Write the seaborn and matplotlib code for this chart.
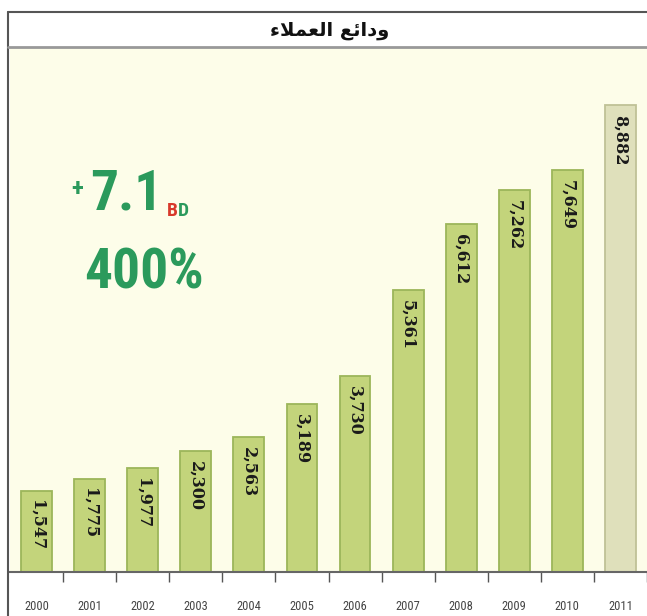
import numpy as np
import pandas as pd
import seaborn as sns
import matplotlib.pyplot as plt
from matplotlib import font_manager
from matplotlib.lines import Line2D

# data
years = ['2000', '2001', '2002', '2003', '2004', '2005',
         '2006', '2007', '2008', '2009', '2010', '2011']
deposits = [1547, 1775, 1977, 2300, 2563, 3189,
            3730, 5361, 6612, 7262, 7649, 8882]
value_labels = ['1,547', '1,775', '1,977', '2,300', '2,563', '3,189',
                '3,730', '5,361', '6,612', '7,262', '7,649', '8,882']
# "ودائع العملاء" written in shaped presentation forms, visual order
title_text = '\uFE80\uFEFC\uFEE4\uFECC\uFEDF\uFE8D \uFECA\uFE8B\uFE8D\uFEA9\uFEED'
growth_value = '7.1'
growth_pct = '400%'

bar_colors = ['#c3d47b'] * 11 + ['#dfe0bb']
edge_colors = ['#9cb65a'] * 11 + ['#bfc296']
green = '#2b9a5c'
red = '#d8392b'

sns.set_theme(style='white')

names = {f.name for f in font_manager.fontManager.ttflist}
narrow = next((n for n in ['Roboto Condensed', 'Liberation Sans Narrow', 'Open Sans Condensed']
               if n in names), 'Liberation Serif')

W, H = 647, 616
def fx(px):
    return px / W
def fy(py):
    return 1 - py / H

fig = plt.figure(figsize=(6.47, 6.16), dpi=100, facecolor='white')

# outer frame and title band
fig.add_artist(Line2D([fx(8), fx(8)], [fy(12), fy(616)], color='#555555', lw=1.5))
fig.add_artist(Line2D([fx(8), 1], [fy(12), fy(12)], color='#555555', lw=1.5))
fig.add_artist(Line2D([fx(8), 1], [fy(47), fy(47)], color='#999999', lw=2))
fig.text(fx(330), fy(30), title_text, ha='center', va='center',
         fontsize=14, fontweight='bold', family='DejaVu Sans', color='#111111')

ax = fig.add_axes([fx(10), fy(572), 1 - fx(10), fy(48) - fy(572)])
ax.set_facecolor('#fdfde9')

df = pd.DataFrame({'year': years, 'deposits': deposits})
sns.barplot(data=df, x='year', y='deposits', hue='year', palette=bar_colors,
            legend=False, width=0.58, saturation=1, ax=ax)
for patch, ec in zip(ax.patches, edge_colors):
    patch.set_edgecolor(ec)
    patch.set_linewidth(1.3)

for i, (v, lab) in enumerate(zip(deposits, value_labels)):
    ax.annotate(lab, xy=(i, v), xytext=(0, -7), textcoords='offset points',
                rotation=270, ha='center', va='top', fontsize=11.5,
                fontweight='bold', family='DejaVu Serif', color='#1a1a1a')

ax.set_xlim(-0.5, 11.47)
ax.set_ylim(0, 9970)
ax.set_xlabel('')
ax.set_ylabel('')
ax.set_yticks([])
for s in ['top', 'right', 'left']:
    ax.spines[s].set_visible(False)
ax.spines['bottom'].set_color('#666666')
ax.spines['bottom'].set_linewidth(1.5)

ax.set_xticks(np.arange(len(years)) + 0.5, minor=True)
ax.tick_params(axis='x', which='major', length=0, pad=20, labelsize=9, colors='#444444')
ax.tick_params(axis='x', which='minor', bottom=True, length=7, width=1, color='#555555')
for t in ax.get_xticklabels():
    t.set_fontfamily(narrow)

# growth callout
fig.text(fx(71), fy(196), '+', fontsize=18, fontweight='bold', color=green, family=narrow)
t71 = fig.text(fx(90), fy(210), growth_value, fontsize=40, fontweight='bold',
               color=green, family=narrow)
b = fig.add_artist(plt.Annotation('B', xy=(1, 0), xycoords=t71, xytext=(3, 1),
                                  textcoords='offset points', fontsize=14, fontweight='bold',
                                  color=red, family=narrow, va='bottom'))
fig.add_artist(plt.Annotation('D', xy=(1, 0), xycoords=b, xytext=(0.5, 0),
                              textcoords='offset points', fontsize=14, fontweight='bold',
                              color=green, family=narrow, va='bottom'))
fig.text(fx(84), fy(289), growth_pct, fontsize=40, fontweight='bold', color=green, family=narrow)

fig.savefig('out.png', dpi=100, facecolor='white')
